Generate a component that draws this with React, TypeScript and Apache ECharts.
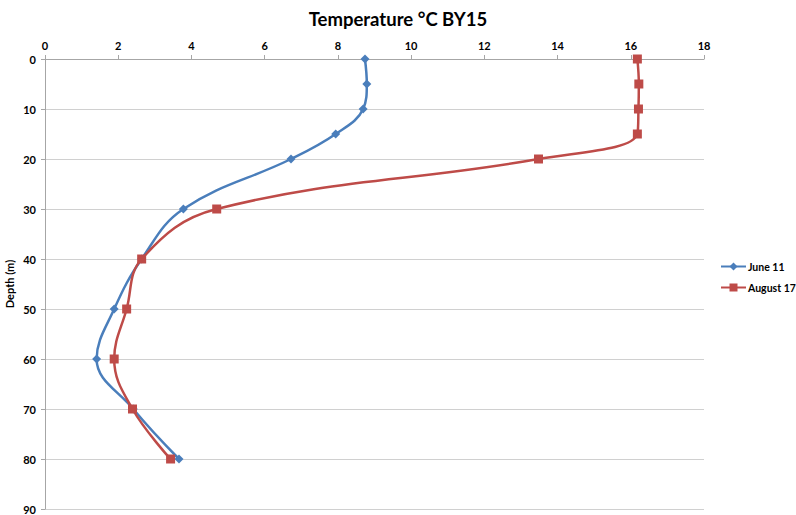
import React, { useEffect, useRef } from "react";
import * as echarts from "echarts";

const depths = [0, 5, 10, 15, 20, 30, 40, 50, 60, 70, 80];
const june11 = [8.74, 8.79, 8.69, 7.94, 6.72, 3.78, 2.64, 1.89, 1.41, 2.41, 3.66];
const august17 = [16.18, 16.22, 16.21, 16.18, 13.48, 4.69, 2.64, 2.23, 1.89, 2.39, 3.43];
const seriesNames = ["June 11", "August 17"];

export default function App() {
  const ref = useRef<HTMLDivElement>(null);
  useEffect(() => {
    if (!ref.current) return;
    const chart = echarts.init(ref.current, null, { renderer: "svg" });
    const font = "Lato, 'Open Sans', sans-serif";
    const toPairs = (vals: number[]) => vals.map((v, i) => [v, depths[i]]);
    chart.setOption({
      animation: false,
      backgroundColor: "#ffffff",
      textStyle: { fontFamily: font },
      title: {
        text: "Temperature °C BY15",
        left: "center",
        top: 4,
        textStyle: { fontFamily: font, fontSize: 18.5, fontWeight: "bold", color: "#000" },
      },
      legend: {
        orient: "vertical",
        left: 720,
        top: 261,
        width: 76,
        padding: 0,
        itemWidth: 25,
        itemHeight: 10,
        itemGap: 10,
        textStyle: { fontFamily: font, fontSize: 10.5, fontWeight: "bold", color: "#000", padding: [0, 0, 0, -3] },
        data: seriesNames,
      },
      grid: { left: 45, top: 59, right: 92, bottom: 6, containLabel: false, outerBoundsMode: "none" },
      xAxis: {
        type: "value",
        position: "top",
        min: 0,
        max: 18,
        interval: 2,
        axisLine: { show: true, lineStyle: { color: "#a6a6a6" } },
        axisTick: { show: true, length: 4, lineStyle: { color: "#a6a6a6" } },
        axisLabel: { fontFamily: font, fontSize: 11, fontWeight: "bold", color: "#000", margin: 8 },
        splitLine: { show: false },
      },
      yAxis: {
        type: "value",
        inverse: true,
        min: 0,
        max: 90,
        interval: 10,
        name: "Depth (m)",
        nameLocation: "middle",
        nameGap: 30,
        nameMoveOverlap: false,
        nameTextStyle: { fontFamily: font, fontSize: 11, fontWeight: "bold", color: "#000" },
        axisLine: { show: true, lineStyle: { color: "#a6a6a6" } },
        axisTick: { show: true, length: 4, lineStyle: { color: "#a6a6a6" } },
        axisLabel: { fontFamily: font, fontSize: 11, fontWeight: "bold", color: "#000", margin: 9 },
        splitLine: { show: true, lineStyle: { color: "#d0d0d0", width: 1 } },
      },
      series: [
        {
          name: seriesNames[0],
          type: "line",
          smooth: 0.4,
          data: toPairs(june11),
          symbol: "diamond",
          symbolSize: 9,
          itemStyle: { color: "#4a7ebb" },
          lineStyle: { color: "#4a7ebb", width: 2.5 },
        },
        {
          name: seriesNames[1],
          type: "line",
          smooth: 0.4,
          data: toPairs(august17),
          symbol: "rect",
          symbolSize: 9,
          itemStyle: { color: "#be4b48" },
          lineStyle: { color: "#be4b48", width: 2.5 },
        },
      ],
    });
    return () => chart.dispose();
  }, []);
  return (
    <div
      ref={ref}
      style={{ position: "absolute", left: 0, top: 0, width: 796, height: 515 }}
    />
  );
}
